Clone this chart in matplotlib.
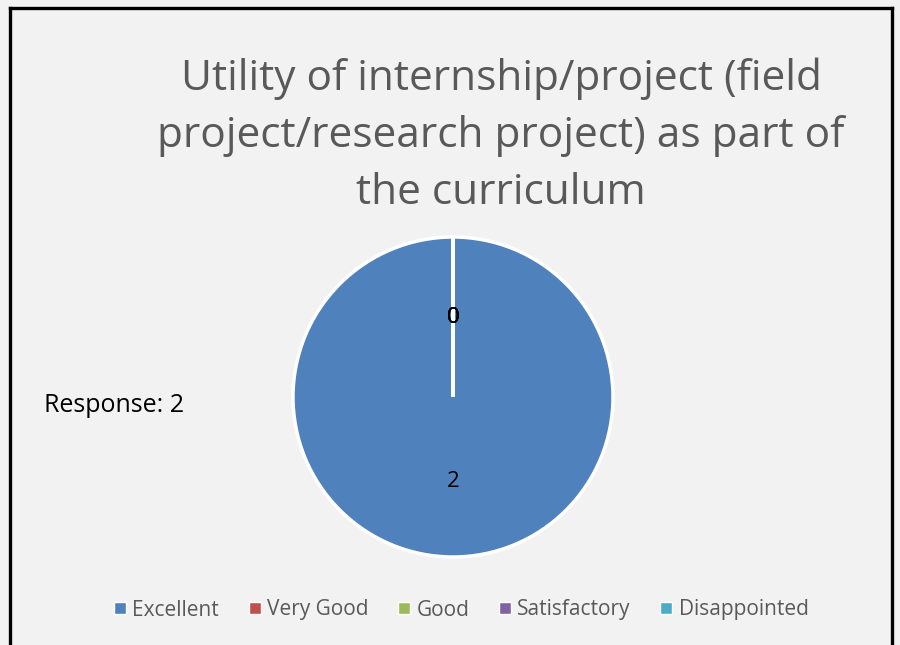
import matplotlib.pyplot as plt
from matplotlib.lines import Line2D

categories = ['Excellent', 'Very Good', 'Good', 'Satisfactory', 'Disappointed']
responses = [2, 0, 0, 0, 0]
colors = ['#4f81bd', '#c0504d', '#9bbb59', '#8064a2', '#4bacc6']
title = 'Utility of internship/project (field\nproject/research project) as part of\nthe curriculum'

plt.rcParams['font.family'] = ['Open Sans', 'DejaVu Sans']

fig = plt.figure(figsize=(9, 6.45), dpi=100)
fig.patch.set_facecolor('#f2f2f2')

# frame around the chart (bottom edge is cut off in the original)
for xs, ys in [([10/900, 10/900], [0, 1 - 8/645]),
               ([10/900, 892/900], [1 - 8/645, 1 - 8/645]),
               ([892/900, 892/900], [1 - 8/645, 0])]:
    fig.add_artist(Line2D(xs, ys, color='black', lw=2.4, transform=fig.transFigure))

fig.text(501/900, 1 - 136/645, title, ha='center', va='center', fontsize=30.5,
         color='#595959', linespacing=1.47)

ax = fig.add_axes([(453 - 160) / 900, (645 - 557) / 645, 320 / 900, 320 / 645])
ax.set_facecolor('none')
wedges, texts = ax.pie(responses, colors=colors, startangle=90, counterclock=False,
                       labels=[str(v) for v in responses], labeldistance=0.51,
                       wedgeprops=dict(edgecolor='white', linewidth=2.5),
                       textprops=dict(fontsize=16, color='black'))
for t in texts:
    t.set_ha('center')
    t.set_va('center_baseline')
ax.set_xlim(-1.0, 1.0)
ax.set_ylim(-1.0, 1.0)

fig.text(44/900, 1 - 402/645, 'Response: 2', ha='left', va='center_baseline', fontsize=18, color='black')

handles = [Line2D([], [], marker='s', linestyle='', markersize=8, markerfacecolor=c,
                  markeredgecolor='white', markeredgewidth=1) for c in colors]
fig.legend(handles, categories, loc='center', bbox_to_anchor=(459/900, 1 - 610/645), ncol=5,
           frameon=False, fontsize=15, labelcolor='#595959', handletextpad=0.1,
           columnspacing=1.2, handlelength=1.0)

fig.savefig('out.png', dpi=100, facecolor=fig.get_facecolor())
